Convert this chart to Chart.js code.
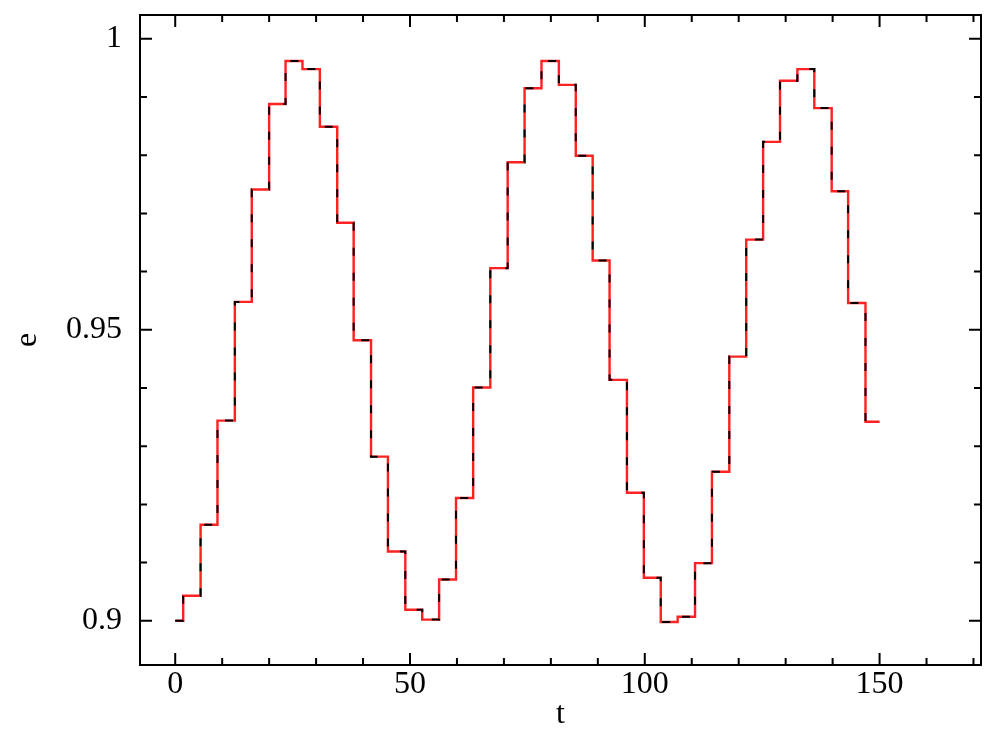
<!DOCTYPE html>
<html>
<head>
<meta charset="utf-8">
<script src="https://cdn.jsdelivr.net/npm/chart.js"></script>
<style>
    body { margin: 0; background: #fff; }
    canvas { display: block; }
</style>
</head>
<body>
<canvas id="plot" width="997" height="747"></canvas>
<script>
// step edges in t, last one closes the final step
const tEdges = [0, 1.7, 5.4, 9.0, 12.7, 16.3, 20.0, 23.5, 27.1, 30.8, 34.5, 38.0, 41.7, 45.3, 49.0,
    52.6, 56.2, 59.8, 63.45, 67.1, 70.8, 74.4, 78.0, 81.7, 85.3, 88.9, 92.5, 96.2, 99.8, 103.4,
    107.0, 110.7, 114.3, 118.0, 121.6, 125.2, 128.8, 132.5, 136.1, 139.8, 143.3, 147.0, 150.0];

// e level held on each step
const eLevels = [0.9000, 0.9043, 0.9165, 0.9344, 0.9548, 0.9741, 0.9888, 0.9962, 0.9948, 0.9849,
    0.9684, 0.9482, 0.9282, 0.9119, 0.9019, 0.9002, 0.9071, 0.9211, 0.9401, 0.9606, 0.9788,
    0.9915, 0.9962, 0.9921, 0.9799, 0.9619, 0.9414, 0.9220, 0.9074, 0.8998, 0.9007, 0.9099,
    0.9256, 0.9454, 0.9655, 0.9823, 0.9928, 0.9948, 0.9881, 0.9738, 0.9546, 0.9342];

const xMajor = [0, 50, 100, 150];
const xMinor = [10, 20, 30, 40, 60, 70, 80, 90, 110, 120, 130, 140, 160, 170];
const yMajor = [0.9, 0.95, 1];
const yMinor = [0.91, 0.92, 0.93, 0.94, 0.96, 0.97, 0.98, 0.99];

const points = tEdges.map((t, i) => ({ x: t, y: eLevels[Math.min(i, eLevels.length - 1)] }));

const font = { family: "'Liberation Serif', 'DejaVu Serif', serif", size: 32 };

// frame plus inward ticks on all four sides
const frameTicks = {
    id: "frameTicks",
    afterDraw(chart) {
        const { ctx, chartArea: a, scales: { x, y } } = chart;
        ctx.save();
        ctx.strokeStyle = "#000";
        ctx.lineWidth = 2;
        ctx.beginPath();
        const tick = (vals, len) => {
            for (const v of vals) {
                const px = x.getPixelForValue(v);
                ctx.moveTo(px, a.bottom); ctx.lineTo(px, a.bottom - len);
                ctx.moveTo(px, a.top); ctx.lineTo(px, a.top + len);
            }
        };
        const ytick = (vals, len) => {
            for (const v of vals) {
                const py = y.getPixelForValue(v);
                ctx.moveTo(a.left, py); ctx.lineTo(a.left + len, py);
                ctx.moveTo(a.right, py); ctx.lineTo(a.right - len, py);
            }
        };
        tick(xMajor, 12);
        tick(xMinor, 7);
        ytick(yMajor, 12);
        ytick(yMinor, 7);
        ctx.stroke();
        ctx.strokeRect(a.left, a.top, a.right - a.left, a.bottom - a.top);
        ctx.restore();
    }
};

new Chart(document.getElementById("plot"), {
    type: "line",
    data: {
        datasets: [{
            label: "dashed",
            data: points,
            borderColor: "#000",
            borderWidth: 2,
            borderDash: [8, 17],
            stepped: true,
            pointRadius: 0,
        }, {
            label: "solid",
            data: points,
            borderColor: "#f22",
            borderWidth: 2.4,
            stepped: true,
            pointRadius: 0,
        }]
    },
    options: {
        responsive: false,
        animation: false,
        layout: { padding: { top: 15, right: 16, left: 0, bottom: 0 } },
        plugins: { legend: { display: false }, tooltip: { enabled: false } },
        scales: {
            x: {
                type: "linear",
                min: -7.5,
                max: 171.6,
                grid: { display: false, drawTicks: false },
                border: { display: false },
                afterBuildTicks: s => { s.ticks = xMajor.map(v => ({ value: v })); },
                afterFit: s => { s.height = 82; s.paddingLeft = 0; s.paddingRight = 0; },
                ticks: { color: "#000", font: font, padding: 0, maxRotation: 0, callback: v => String(v) },
                title: { display: true, text: "t", color: "#000", font: font, padding: { top: 0, bottom: 13 } }
            },
            y: {
                type: "linear",
                min: 0.8924,
                max: 1.0041,
                grid: { display: false, drawTicks: false },
                border: { display: false },
                afterBuildTicks: s => { s.ticks = yMajor.map(v => ({ value: v })); },
                afterFit: s => { s.width = 140; s.paddingTop = 0; s.paddingBottom = 0; },
                ticks: { color: "#000", font: font, padding: 18, callback: v => String(v) },
                title: { display: true, text: "e", color: "#000", font: font, padding: { top: 8, bottom: 0 } }
            }
        }
    },
    plugins: [frameTicks]
});
</script>
</body>
</html>
